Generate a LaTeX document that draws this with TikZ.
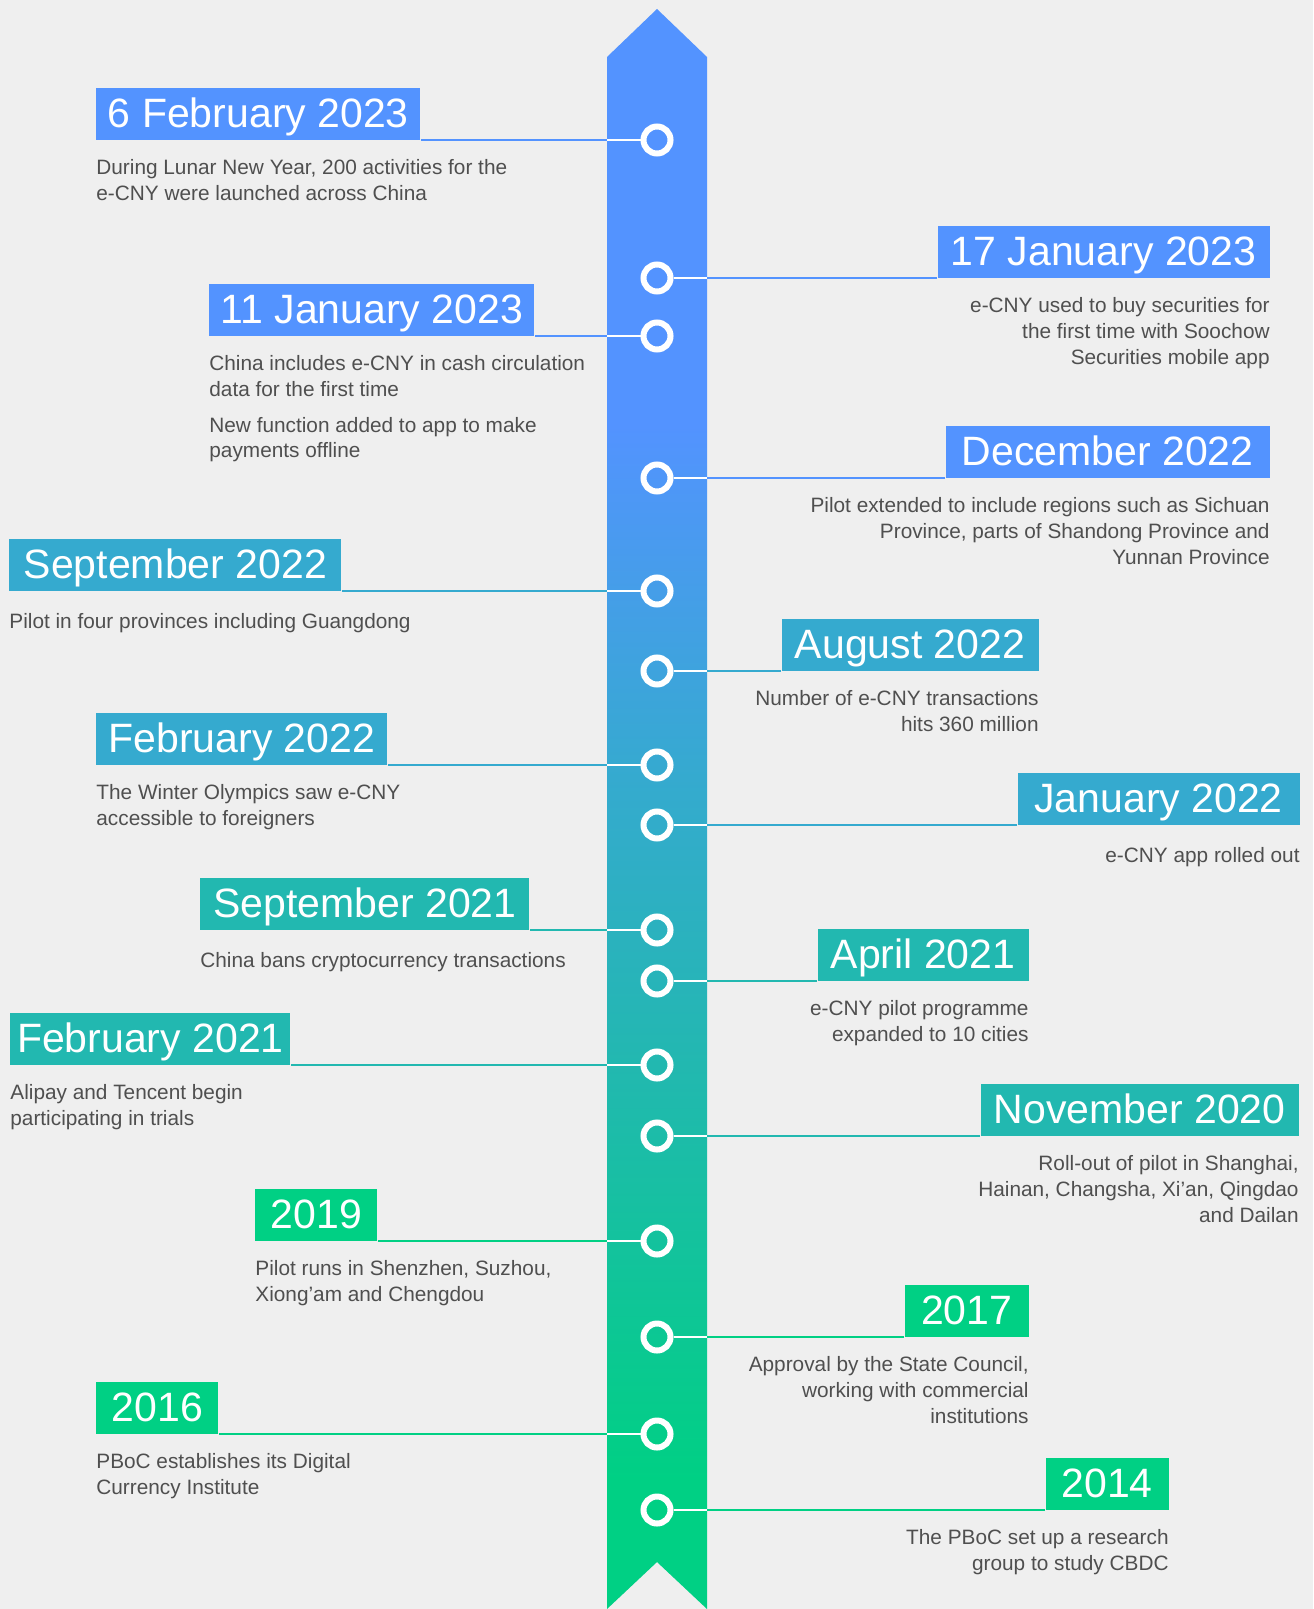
\documentclass[tikz,border=0pt]{standalone}
\usepackage{fontspec}
\setmainfont{Liberation Sans}
\usetikzlibrary{positioning}
\definecolor{EcnyBlue}{HTML}{5393FF}
\definecolor{EcnyCyan}{HTML}{35AACF}
\definecolor{EcnyTeal}{HTML}{22B8B0}
\definecolor{EcnyGreen}{HTML}{00D084}
\definecolor{EcnyText}{HTML}{4F4F4F}
\definecolor{EcnyBg}{HTML}{EFEFEF}
\pgfdeclareverticalshading{ribbonfade}{100bp}{color(0bp)=(EcnyGreen); color(29bp)=(EcnyGreen); color(42bp)=(EcnyTeal); color(51bp)=(EcnyCyan); color(62bp)=(EcnyBlue); color(100bp)=(EcnyBlue)}

\begin{document}
\begin{tikzpicture}[
    x=0.5pt,y=-0.5pt,
    stamp/.style={text=white,font=\fontsize{20.5}{24}\selectfont,minimum height=26pt,text height=14.5pt,text depth=1pt,inner xsep=0pt,inner ysep=0pt},
    note/.style={text=EcnyText,font=\fontsize{10.4}{12.8}\selectfont,inner sep=0pt,execute at begin node={\rule{0pt}{9pt}}},
    dot/.style={circle,draw=white,line width=3pt,minimum size=13.5pt,inner sep=0pt},
    link/.style={line width=1.2pt}
  ]
    \fill[EcnyBg] (0,0) rectangle (1313,1609);
    \useasboundingbox (0,0) rectangle (1313,1609);
    % ribbon
    \shade[shading=ribbonfade] (607,57) -- (657,9) -- (707,57) -- (707,1609) -- (657,1562) -- (607,1609) -- cycle;
    \coordinate (ribL) at (607,0);
    \coordinate (ribC) at (657,0);
    \coordinate (ribR) at (707,0);

    % 2023
    \node[stamp,fill=EcnyBlue,minimum width=162pt,anchor=south west] (t1) at (96,140) {6 February 2023};
    \node[note,align=left,below=9.75pt of t1.south west,anchor=north west] (n1) {During Lunar New Year, 200 activities for the\\e-CNY were launched across China};
    \node[dot] (c1) at (ribC |- t1.south) {};
    \draw[link,EcnyBlue] (t1.south east) -- (t1.south east -| ribL);
    \draw[link,white] (t1.south east -| ribL) -- (c1);

    \node[stamp,fill=EcnyBlue,minimum width=166pt,anchor=south east] (t2) at (1270,278) {17 January 2023};
    \node[note,align=right,below=9.75pt of t2.south east,anchor=north east] (n2) {e-CNY used to buy securities for\\the first time with Soochow\\Securities mobile app};
    \node[dot] (c2) at (ribC |- t2.south) {};
    \draw[link,white] (c2) -- (c2 -| ribR);
    \draw[link,EcnyBlue] (c2 -| ribR) -- (t2.south west);

    \node[stamp,fill=EcnyBlue,minimum width=162.5pt,anchor=south west] (t3) at (209,336) {11 January 2023};
    \node[note,align=left,below=9.75pt of t3.south west,anchor=north west] (n3) {China includes e-CNY in cash circulation\\data for the first time\\[5pt]New function added to app to make\\payments offline};
    \node[dot] (c3) at (ribC |- t3.south) {};
    \draw[link,EcnyBlue] (t3.south east) -- (t3.south east -| ribL);
    \draw[link,white] (t3.south east -| ribL) -- (c3);

    % 2022
    \node[stamp,fill=EcnyBlue,minimum width=162pt,anchor=south east] (t4) at (1270,478) {December 2022};
    \node[note,align=right,below=9.75pt of t4.south east,anchor=north east] (n4) {Pilot extended to include regions such as Sichuan\\Province, parts of Shandong Province and\\Yunnan Province};
    \node[dot] (c4) at (ribC |- t4.south) {};
    \draw[link,white] (c4) -- (c4 -| ribR);
    \draw[link,EcnyBlue] (c4 -| ribR) -- (t4.south west);

    \node[stamp,fill=EcnyCyan,minimum width=166pt,anchor=south west] (t5) at (9,591) {September 2022};
    \node[note,align=left,below=9.75pt of t5.south west,anchor=north west] (n5) {Pilot in four provinces including Guangdong};
    \node[dot] (c5) at (ribC |- t5.south) {};
    \draw[link,EcnyCyan] (t5.south east) -- (t5.south east -| ribL);
    \draw[link,white] (t5.south east -| ribL) -- (c5);

    \node[stamp,fill=EcnyCyan,minimum width=128.5pt,anchor=south east] (t6) at (1039,671) {August 2022};
    \node[note,align=right,below=9.75pt of t6.south east,anchor=north east] (n6) {Number of e-CNY transactions\\hits 360 million};
    \node[dot] (c6) at (ribC |- t6.south) {};
    \draw[link,white] (c6) -- (c6 -| ribR);
    \draw[link,EcnyCyan] (c6 -| ribR) -- (t6.south west);

    \node[stamp,fill=EcnyCyan,minimum width=145.5pt,anchor=south west] (t7) at (96,765) {February 2022};
    \node[note,align=left,below=9.75pt of t7.south west,anchor=north west] (n7) {The Winter Olympics saw e-CNY\\accessible to foreigners};
    \node[dot] (c7) at (ribC |- t7.south) {};
    \draw[link,EcnyCyan] (t7.south east) -- (t7.south east -| ribL);
    \draw[link,white] (t7.south east -| ribL) -- (c7);

    \node[stamp,fill=EcnyCyan,minimum width=141pt,anchor=south east] (t8) at (1300,825) {January 2022};
    \node[note,align=right,below=9.75pt of t8.south east,anchor=north east] (n8) {e-CNY app rolled out};
    \node[dot] (c8) at (ribC |- t8.south) {};
    \draw[link,white] (c8) -- (c8 -| ribR);
    \draw[link,EcnyCyan] (c8 -| ribR) -- (t8.south west);

    % 2021 and 2020
    \node[stamp,fill=EcnyTeal,minimum width=164.5pt,anchor=south west] (t9) at (200,930) {September 2021};
    \node[note,align=left,below=9.75pt of t9.south west,anchor=north west] (n9) {China bans cryptocurrency transactions};
    \node[dot] (c9) at (ribC |- t9.south) {};
    \draw[link,EcnyTeal] (t9.south east) -- (t9.south east -| ribL);
    \draw[link,white] (t9.south east -| ribL) -- (c9);

    \node[stamp,fill=EcnyTeal,minimum width=105.5pt,anchor=south east] (t10) at (1029,981) {April 2021};
    \node[note,align=right,below=9.75pt of t10.south east,anchor=north east] (n10) {e-CNY pilot programme\\expanded to 10 cities};
    \node[dot] (c10) at (ribC |- t10.south) {};
    \draw[link,white] (c10) -- (c10 -| ribR);
    \draw[link,EcnyTeal] (c10 -| ribR) -- (t10.south west);

    \node[stamp,fill=EcnyTeal,minimum width=140pt,anchor=south west] (t11) at (10,1065) {February 2021};
    \node[note,align=left,below=9.75pt of t11.south west,anchor=north west] (n11) {Alipay and Tencent begin\\participating in trials};
    \node[dot] (c11) at (ribC |- t11.south) {};
    \draw[link,EcnyTeal] (t11.south east) -- (t11.south east -| ribL);
    \draw[link,white] (t11.south east -| ribL) -- (c11);

    \node[stamp,fill=EcnyTeal,minimum width=159pt,anchor=south east] (t12) at (1299,1136) {November 2020};
    \node[note,align=right,below=9.75pt of t12.south east,anchor=north east] (n12) {Roll-out of pilot in Shanghai,\\Hainan, Changsha, Xi’an, Qingdao\\and Dailan};
    \node[dot] (c12) at (ribC |- t12.south) {};
    \draw[link,white] (c12) -- (c12 -| ribR);
    \draw[link,EcnyTeal] (c12 -| ribR) -- (t12.south west);

    % early years
    \node[stamp,fill=EcnyGreen,minimum width=61pt,anchor=south west] (t13) at (255,1241) {2019};
    \node[note,align=left,below=9.75pt of t13.south west,anchor=north west] (n13) {Pilot runs in Shenzhen, Suzhou,\\Xiong’am and Chengdou};
    \node[dot] (c13) at (ribC |- t13.south) {};
    \draw[link,EcnyGreen] (t13.south east) -- (t13.south east -| ribL);
    \draw[link,white] (t13.south east -| ribL) -- (c13);

    \node[stamp,fill=EcnyGreen,minimum width=62pt,anchor=south east] (t14) at (1029,1337) {2017};
    \node[note,align=right,below=9.75pt of t14.south east,anchor=north east] (n14) {Approval by the State Council,\\working with commercial\\institutions};
    \node[dot] (c14) at (ribC |- t14.south) {};
    \draw[link,white] (c14) -- (c14 -| ribR);
    \draw[link,EcnyGreen] (c14 -| ribR) -- (t14.south west);

    \node[stamp,fill=EcnyGreen,minimum width=61pt,anchor=south west] (t15) at (96,1434) {2016};
    \node[note,align=left,below=9.75pt of t15.south west,anchor=north west] (n15) {PBoC establishes its Digital\\Currency Institute};
    \node[dot] (c15) at (ribC |- t15.south) {};
    \draw[link,EcnyGreen] (t15.south east) -- (t15.south east -| ribL);
    \draw[link,white] (t15.south east -| ribL) -- (c15);

    \node[stamp,fill=EcnyGreen,minimum width=61.5pt,anchor=south east] (t16) at (1169,1510) {2014};
    \node[note,align=right,below=9.75pt of t16.south east,anchor=north east] (n16) {The PBoC set up a research\\group to study CBDC};
    \node[dot] (c16) at (ribC |- t16.south) {};
    \draw[link,white] (c16) -- (c16 -| ribR);
    \draw[link,EcnyGreen] (c16 -| ribR) -- (t16.south west);
  \end{tikzpicture}
\end{document}
